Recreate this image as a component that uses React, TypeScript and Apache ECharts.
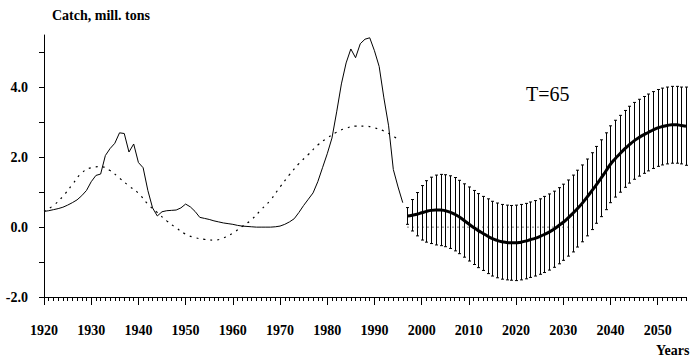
import React, { useEffect, useRef } from "react";
import * as echarts from "echarts";

// Observed catch, 1920..1996
const catchStartYear = 1920;
const catchValues = [
  0.45, 0.47, 0.5, 0.53, 0.57, 0.63, 0.7, 0.78, 0.9, 1.05,
  1.3, 1.48, 1.52, 2.05, 2.25, 2.4, 2.7, 2.68, 2.15, 2.38,
  1.85, 1.7, 1.05, 0.55, 0.32, 0.44, 0.47, 0.48, 0.49, 0.55,
  0.66, 0.58, 0.45, 0.28, 0.25, 0.22, 0.18, 0.15, 0.12, 0.1,
  0.08, 0.05, 0.03, 0.02, 0.01, 0.0, 0.0, 0.0, 0.0, 0.01,
  0.03, 0.08, 0.15, 0.24, 0.42, 0.62, 0.8, 0.98, 1.3, 1.7,
  2.1, 2.55, 3.3, 4.1, 4.7, 5.1, 4.85, 5.25, 5.38, 5.42,
  5.05, 4.6, 3.7, 2.9, 1.65, 1.15, 0.7,
];

// Fitted cycle (dotted)
const cycleYears = [
  1920, 1922, 1924, 1926, 1928, 1930, 1932, 1934, 1936, 1938,
  1940, 1942, 1944, 1946, 1948, 1950, 1952, 1954, 1956, 1958,
  1960, 1962, 1964, 1966, 1968, 1970, 1972, 1974, 1976, 1978,
  1980, 1982, 1984, 1986, 1988, 1990, 1992, 1994, 1995,
];
const cycleValues = [
  0.45, 0.62, 0.88, 1.22, 1.55, 1.7, 1.73, 1.62, 1.4, 1.18,
  0.97, 0.66, 0.42, 0.18, -0.02, -0.2, -0.3, -0.35, -0.37, -0.31,
  -0.17, 0.02, 0.22, 0.5, 0.78, 1.15, 1.5, 1.82, 2.08, 2.35,
  2.55, 2.72, 2.83, 2.89, 2.89, 2.84, 2.75, 2.6, 2.52,
];

// Forecast 1997..2056
const forecastStartYear = 1997;
const forecastMean = [
  0.32, 0.34, 0.37, 0.41, 0.45, 0.48, 0.49, 0.49, 0.47, 0.43,
  0.37, 0.29, 0.19, 0.09, -0.01, -0.1, -0.18, -0.26, -0.33, -0.38,
  -0.42, -0.44, -0.45, -0.45, -0.43, -0.4, -0.36, -0.32, -0.27, -0.21,
  -0.14, -0.06, 0.04, 0.14, 0.26, 0.39, 0.53, 0.68, 0.85, 1.03,
  1.21, 1.4, 1.6, 1.8, 1.96, 2.1, 2.24, 2.36, 2.47, 2.56,
  2.64, 2.71, 2.78, 2.84, 2.88, 2.91, 2.93, 2.93, 2.91, 2.89,
];
const forecastHalfWidth = [
  0.24, 0.45, 0.62, 0.78, 0.88, 0.95, 1.0, 1.02, 1.03, 1.04,
  1.05, 1.05, 1.05, 1.06, 1.06, 1.06, 1.06, 1.07, 1.07, 1.07,
  1.07, 1.07, 1.07, 1.08, 1.08, 1.08, 1.08, 1.08, 1.08, 1.09,
  1.09, 1.09, 1.09, 1.09, 1.09, 1.1, 1.1, 1.1, 1.1, 1.1,
  1.1, 1.1, 1.1, 1.1, 1.1, 1.1, 1.1, 1.1, 1.1, 1.1,
  1.1, 1.1, 1.1, 1.1, 1.1, 1.1, 1.1, 1.1, 1.1, 1.12,
];

// Dotted zero reference in forecast zone
const zeroRefYears = [1997, 2032];

const xLabelYears = [1920, 1930, 1940, 1950, 1960, 1970, 1980, 1990, 2000, 2010, 2020, 2030, 2040, 2050];
const yTickValues = [-2, -1, 0, 1, 2, 3, 4, 5];
const yLabelValues = [-2, 0, 2, 4];

const FONT = "Liberation Serif";

export default function App() {
  const ref = useRef<HTMLDivElement>(null);
  useEffect(() => {
    if (!ref.current) return;
    const chart = echarts.init(ref.current, null, { renderer: "svg" });
    const catchData = catchValues.map((v, i) => [catchStartYear + i, v]);
    const cycleData = cycleYears.map((y, i) => [y, cycleValues[i]]);
    const meanData = forecastMean.map((v, i) => [forecastStartYear + i, v]);
    const barData = forecastMean.map((v, i) => [
      forecastStartYear + i,
      v - forecastHalfWidth[i],
      v + forecastHalfWidth[i],
    ]);
    const allYears: number[] = [];
    for (let y = 1920; y <= 2056; y++) allYears.push(y);

    chart.setOption({
      animation: false,
      backgroundColor: "#fff",
      grid: { left: 44, right: 8, top: 35, bottom: 63, containLabel: false },
      xAxis: [
        {
          type: "value",
          min: 1920,
          max: 2056,
          axisLine: { onZero: false, lineStyle: { color: "#000", width: 1 } },
          axisTick: { customValues: xLabelYears, length: 8, lineStyle: { color: "#000" } },
          axisLabel: {
            customValues: xLabelYears,
            margin: 26,
            color: "#000",
            fontFamily: FONT,
            fontWeight: "bold",
            fontSize: 14,
            formatter: (v: number) => String(v),
          },
          splitLine: { show: false },
        },
        {
          type: "value",
          min: 1920,
          max: 2056,
          position: "bottom",
          axisLine: { show: false, onZero: false },
          axisTick: { customValues: allYears, length: 4, lineStyle: { color: "#000" } },
          axisLabel: { show: false },
          splitLine: { show: false },
        },
      ],
      yAxis: {
        type: "value",
        min: -2,
        max: 5.5,
        axisLine: { show: true, onZero: false, lineStyle: { color: "#000", width: 1 } },
        axisTick: { show: true, customValues: yTickValues, length: 5, lineStyle: { color: "#000" } },
        axisLabel: {
          customValues: yLabelValues,
          margin: 16,
          color: "#000",
          fontFamily: FONT,
          fontWeight: "bold",
          fontSize: 14,
          formatter: (v: number) => v.toFixed(1),
        },
        splitLine: { show: false },
      },
      graphic: [
        {
          type: "text",
          left: 52,
          top: 8,
          style: { text: "Catch, mill. tons", fontFamily: FONT, fontWeight: "bold", fontSize: 14, fill: "#000" },
        },
        {
          type: "text",
          left: 526,
          top: 84,
          style: { text: "T=65", fontFamily: FONT, fontSize: 20, fill: "#000" },
        },
        {
          type: "text",
          left: 656,
          top: 343,
          style: { text: "Years", fontFamily: FONT, fontWeight: "bold", fontSize: 14, fill: "#000" },
        },
      ],
      series: [
        {
          type: "line",
          data: cycleData,
          smooth: true,
          showSymbol: false,
          lineStyle: { color: "#000", width: 1.2, type: [2, 5] },
        },
        {
          type: "line",
          data: zeroRefYears.map((y) => [y, 0]),
          showSymbol: false,
          lineStyle: { color: "#000", width: 1, type: [1, 4] },
        },
        {
          type: "line",
          data: catchData,
          showSymbol: false,
          lineStyle: { color: "#000", width: 1 },
        },
        {
          type: "custom",
          data: barData,
          renderItem: (params: any, api: any) => {
            const x = api.value(0);
            const lo = api.value(1);
            const hi = api.value(2);
            const pt = api.coord([x, hi]);
            const pb = api.coord([x, lo]);
            const cx = Math.round(pt[0]) + 0.5;
            const st = { stroke: "#000", lineWidth: 1 };
            return {
              type: "group",
              children: [
                { type: "line", shape: { x1: cx, y1: pt[1], x2: cx, y2: pb[1] }, style: st },
                { type: "line", shape: { x1: cx - 1.5, y1: pt[1], x2: cx + 1.5, y2: pt[1] }, style: st },
                { type: "line", shape: { x1: cx - 1.5, y1: pb[1], x2: cx + 1.5, y2: pb[1] }, style: st },
              ],
            };
          },
        },
        {
          type: "line",
          data: meanData,
          smooth: true,
          showSymbol: false,
          lineStyle: { color: "#000", width: 3 },
        },
      ],
    });
    return () => chart.dispose();
  }, []);
  return (
    <div
      ref={ref}
      style={{ position: "fixed", left: 0, top: 0, width: 694, height: 360, background: "#fff" }}
    />
  );
}
